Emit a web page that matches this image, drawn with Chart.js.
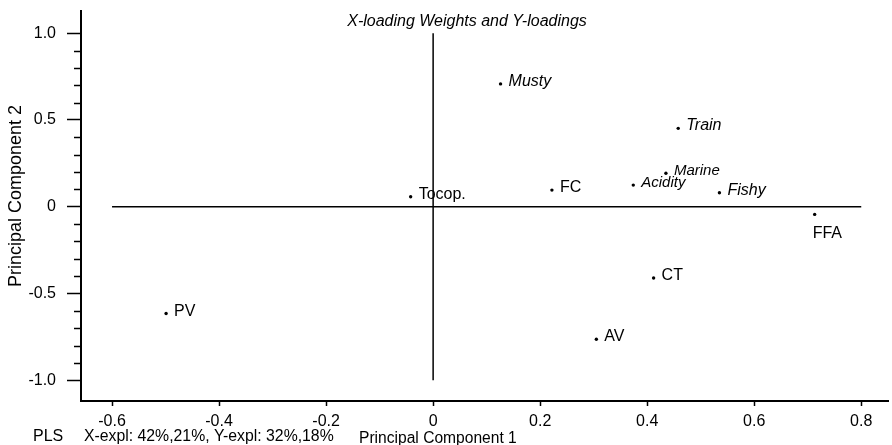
<!DOCTYPE html>
<html><head><meta charset="utf-8">
<script src="https://cdn.jsdelivr.net/npm/chart.js@4.4.0/dist/chart.umd.min.js"></script>
<style>html,body{margin:0;padding:0;background:#fff;}</style>
</head><body>
<canvas id="c" width="892" height="445"></canvas>
<script>
// ---- data ----
const xWeightNames = ['FC', 'Tocop.', 'FFA', 'CT', 'AV', 'PV'];
const xWeightPC1   = [0.222, -0.042, 0.713, 0.412, 0.305, -0.499];
const xWeightPC2   = [0.096, 0.058, -0.044, -0.410, -0.763, -0.615];
const yLoadNames   = ['Musty', 'Train', 'Marine', 'Acidity', 'Fishy'];
const yLoadPC1     = [0.126, 0.458, 0.435, 0.374, 0.535];
const yLoadPC2     = [0.708, 0.452, 0.193, 0.125, 0.081];
const xTickValues  = [-0.6, -0.4, -0.2, 0, 0.2, 0.4, 0.6, 0.8];
const xTickLabels  = ['-0.6', '-0.4', '-0.2', '0', '0.2', '0.4', '0.6', '0.8'];
const yTickValues  = [-1.0, -0.5, 0, 0.5, 1.0];
const yTickLabels  = ['-1.0', '-0.5', '0', '0.5', '1.0'];
const yMinorTicks  = [-0.9, -0.8, -0.7, -0.6, -0.4, -0.3, -0.2, -0.1, 0.1, 0.2, 0.3, 0.4, 0.6, 0.7, 0.8, 0.9];
const titleText    = 'X-loading Weights and Y-loadings';
const xTitleText   = 'Principal Component 1';
const yTitleText   = 'Principal Component 2';
const methodText   = 'PLS';
const explText     = 'X-expl: 42%,21%, Y-expl: 32%,18%';

// ---- styles ----
const FONT = "'Liberation Sans', Arial, sans-serif";
Chart.defaults.font.family = FONT;
Chart.defaults.color = '#000';
const labelStyle = {
  'Marine': {size: 15}, 'Acidity': {size: 15},
  'FFA': {dx: -2, dy: 24}
};

const toPts = (xs, ys) => xs.map((x, i) => ({x: x, y: ys[i]}));

const labelPlugin = {
  id: 'pointLabels',
  afterDatasetsDraw(chart) {
    const ctx = chart.ctx;
    ctx.save();
    ctx.fillStyle = '#000';
    ctx.textBaseline = 'alphabetic';
    ctx.textAlign = 'left';
    [[0, xWeightNames, false], [1, yLoadNames, true]].forEach(([di, names, italic]) => {
      const meta = chart.getDatasetMeta(di);
      meta.data.forEach((el, i) => {
        const st = labelStyle[names[i]] || {};
        const size = st.size || 16;
        ctx.font = (italic ? 'italic ' : '') + size + 'px ' + FONT;
        ctx.fillText(names[i], el.x + (st.dx !== undefined ? st.dx : 8), el.y + (st.dy !== undefined ? st.dy : 2));
      });
    });
    ctx.restore();
  }
};

const decoPlugin = {
  id: 'deco',
  afterDraw(chart) {
    const ctx = chart.ctx;
    const ys = chart.scales.y;
    const area = chart.chartArea;
    ctx.save();
    // minor ticks on the y axis
    ctx.strokeStyle = '#000';
    ctx.lineWidth = 1.5;
    yMinorTicks.forEach(v => {
      const py = Math.round(ys.getPixelForValue(v)) + 0.5;
      ctx.beginPath();
      ctx.moveTo(area.left - 7, py);
      ctx.lineTo(area.left, py);
      ctx.stroke();
    });
    ctx.fillStyle = '#000';
    // main title
    ctx.font = 'italic 16px ' + FONT;
    ctx.textAlign = 'center';
    ctx.textBaseline = 'middle';
    ctx.fillText(titleText, 467, 22);
    // x title
    ctx.font = '15.6px ' + FONT;
    ctx.textAlign = 'left';
    ctx.fillText(xTitleText, 359, 439);
    // footer
    ctx.font = '16px ' + FONT;
    ctx.fillText(methodText, 33, 437);
    ctx.font = '15.8px ' + FONT;
    ctx.fillText(explText, 84, 437);
    // y title
    ctx.translate(16.5, 196);
    ctx.rotate(-Math.PI / 2);
    ctx.font = '18px ' + FONT;
    ctx.textAlign = 'center';
    ctx.fillText(yTitleText, 0, 0);
    ctx.restore();
  }
};

new Chart(document.getElementById('c'), {
  type: 'scatter',
  data: {
    datasets: [
      {label: 'X-loading weights', data: toPts(xWeightPC1, xWeightPC2),
       pointRadius: 1.7, pointBackgroundColor: '#000', pointBorderWidth: 0},
      {label: 'Y-loadings', data: toPts(yLoadPC1, yLoadPC2),
       pointRadius: 1.7, pointBackgroundColor: '#000', pointBorderWidth: 0},
      {label: 'h-axis', data: [{x: xTickValues[0], y: 0}, {x: xTickValues[xTickValues.length - 1], y: 0}],
       showLine: true, borderColor: '#000', borderWidth: 1.5, pointRadius: 0},
      {label: 'v-axis', data: [{x: 0, y: yTickValues[0]}, {x: 0, y: yTickValues[yTickValues.length - 1]}],
       showLine: true, borderColor: '#000', borderWidth: 1.5, pointRadius: 0}
    ]
  },
  options: {
    responsive: false,
    animation: false,
    events: [],
    layout: {padding: {top: 11, left: 0, right: 0, bottom: 0}},
    plugins: {legend: {display: false}, tooltip: {enabled: false}, title: {display: false}},
    scales: {
      x: {
        type: 'linear', min: -0.658, max: 0.85,
        afterBuildTicks: s => { s.ticks = xTickValues.map(v => ({value: v})); },
        afterFit: s => { s.height = 44; s.paddingLeft = 0; s.paddingRight = 0; },
        ticks: {callback: (v, i) => xTickLabels[i], font: {size: 16}, color: '#000', padding: 6, maxRotation: 0, autoSkip: false},
        grid: {display: true, drawOnChartArea: false, tickLength: 5, tickColor: '#000', tickWidth: 1.5},
        border: {display: true, color: '#000', width: 2}
      },
      y: {
        type: 'linear', min: -1.119, max: 1.128,
        afterBuildTicks: s => { s.ticks = yTickValues.map(v => ({value: v})); },
        afterFit: s => { s.width = 81; s.paddingTop = 0; s.paddingBottom = 0; },
        ticks: {callback: (v, i) => yTickLabels[i], font: {size: 16}, color: '#000', padding: 11, autoSkip: false},
        grid: {display: true, drawOnChartArea: false, tickLength: 14, tickColor: '#000', tickWidth: 1.5},
        border: {display: true, color: '#000', width: 2}
      }
    }
  },
  plugins: [labelPlugin, decoPlugin]
});
</script>
</body></html>
